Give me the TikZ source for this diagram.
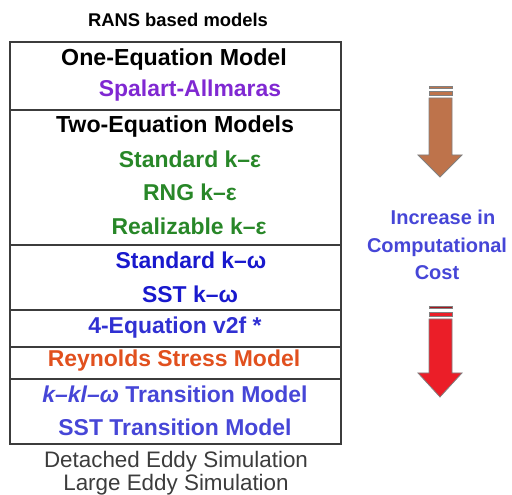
\documentclass[tikz,border=0pt]{standalone}
\usepackage{fontspec}
\setmainfont{Liberation Sans}
\definecolor{purp}{RGB}{128,40,210}
\definecolor{grn}{RGB}{40,135,40}
\definecolor{blu}{RGB}{25,25,205}
\definecolor{lblu}{RGB}{70,70,215}
\definecolor{orng}{RGB}{225,80,30}
\definecolor{brwn}{RGB}{190,115,75}
\definecolor{rd}{RGB}{235,30,40}
\definecolor{edge}{RGB}{60,60,60}
\tikzstyle{none}=[inner sep=0pt]
\tikzstyle{head}=[inner sep=0pt,font=\fontsize{17.4}{20}\selectfont\bfseries]
\tikzstyle{item}=[inner sep=0pt,font=\fontsize{17.2}{20}\selectfont\bfseries]
\tikzstyle{small}=[inner sep=0pt,font=\fontsize{13.8}{16}\selectfont\bfseries]
\tikzstyle{plain}=[inner sep=0pt,text=edge,font=\fontsize{16.8}{20}\selectfont]
\tikzstyle{note}=[inner sep=0pt,text=lblu,font=\fontsize{15}{20.5}\selectfont\bfseries]
\tikzstyle{sep}=[draw=edge,line width=1.2pt]
\tikzstyle{stripe}=[draw=gray,line width=0.6pt]

\begin{document}
\begin{tikzpicture}[x=0.75pt,y=-0.75pt]
	\useasboundingbox (0,0) rectangle (512,495);
	% table of models
	\draw[draw=edge,line width=1.8pt] (10,42) rectangle (341,444);
	\foreach \y in {110,245,310,347,379}
		\draw[sep] (10,\y) -- (341,\y);
	\node [style=small] (rans) at (178,20) {RANS based models};
	\node [style=head] (one) at (174,60) {One-Equation Model};
	\node [style=item,text=purp] (sa) at (190,91) {Spalart-Allmaras};
	\node [style=head] (two) at (175,127) {Two-Equation Models};
	\node [style=item,text=grn] (ske) at (190,159) {Standard k–ε};
	\node [style=item,text=grn] (rng) at (190,192) {RNG k–ε};
	\node [style=item,text=grn] (rke) at (189,226) {Realizable k–ε};
	\node [style=item,text=blu] (skw) at (191,260) {Standard k–ω};
	\node [style=item,text=blu] (sst) at (190,294) {SST k–ω};
	\node [style=item,text=blu!90!white] (v2f) at (175,328) {4-Equation v2f *};
	\node [style=item,text=orng] (rsm) at (174,361) {Reynolds Stress Model};
	\node [style=item,text=lblu] (kkl) at (175,394) {\textit{k–kl–ω} Transition Model};
	\node [style=item,text=lblu] (sstt) at (175,427) {SST Transition Model};
	\node [style=plain] (des) at (176,462) {Detached Eddy Simulation};
	\node [style=plain] (les) at (176,485) {Large Eddy Simulation};
	% cost arrows
	\node [style=note,align=center] (cost) at (437,245) {\hspace*{0.6em}Increase in\\Computational\\Cost};
	\filldraw[stripe,fill=brwn] (429,86) rectangle (452,88);
	\filldraw[stripe,fill=brwn] (429,91) rectangle (452,95);
	\filldraw[stripe,fill=brwn] (429,98) -- (452,98) -- (452,155) -- (462,155)
		-- (440,177) -- (418,155) -- (429,155) -- cycle;
	\filldraw[stripe,fill=rd!70!black] (429,306) rectangle (452,308);
	\filldraw[stripe,fill=rd] (429,312) rectangle (452,316);
	\filldraw[stripe,fill=rd] (429,319) -- (452,319) -- (452,373) -- (462,373)
		-- (440,397) -- (418,373) -- (429,373) -- cycle;
\end{tikzpicture}
\end{document}
